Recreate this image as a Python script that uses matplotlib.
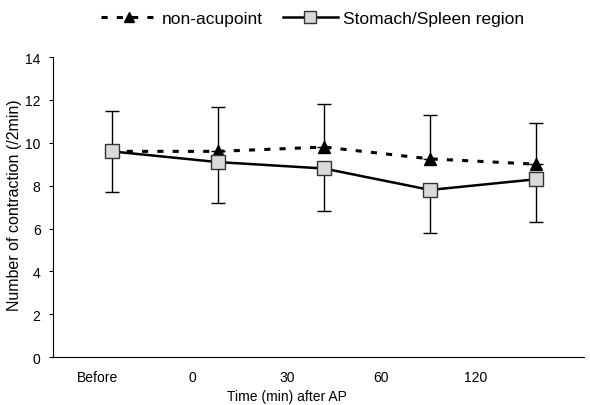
import numpy as np
import matplotlib
matplotlib.use("Agg")
import matplotlib.pyplot as plt

# Daten
labels = ["Before", "0", "30", "60", "120"]
non_acupoint = [9.6, 9.6, 9.8, 9.25, 9.0]
non_acupoint_sd = [1.9, 2.05, 2.0, 2.05, 1.9]
stomach = [9.6, 9.1, 8.8, 7.8, 8.3]
stomach_sd = [1.9, 1.9, 2.0, 2.0, 2.0]

plt.rcParams['font.family'] = ['Liberation Sans', 'DejaVu Sans']

fig = plt.figure(figsize=(5.9, 4.06), dpi=100)
ax = fig.add_axes([0.09, 0.118, 0.9, 0.739])

x = np.arange(len(labels))

# Fehlerbalken: nach oben fuer non-acupoint, nach unten fuer Stomach/Spleen
ax.errorbar(x, non_acupoint, yerr=[np.zeros(5), non_acupoint_sd], fmt='none',
            ecolor='black', elinewidth=1, capsize=5, capthick=1, zorder=1)
ax.errorbar(x, stomach, yerr=[stomach_sd, np.zeros(5)], fmt='none',
            ecolor='black', elinewidth=1, capsize=5, capthick=1, zorder=1)

ax.plot(x, non_acupoint, linestyle=(0, (2, 3)), color='black', linewidth=2.2,
        marker='^', markersize=9, markerfacecolor='black', markeredgecolor='black',
        label='non-acupoint', zorder=3)
ax.plot(x, stomach, linestyle='-', color='black', linewidth=1.8,
        marker='s', markersize=10, markerfacecolor='#d9d9d9', markeredgecolor='#333333',
        label='Stomach/Spleen region', zorder=4)

ax.set_xlim(-0.55, 4.45)
ax.set_ylim(0, 14)
ax.set_yticks(range(0, 15, 2))
# Beschriftungen sitzen im Original etwas enger als die Punkte
ax.set_xticks(x * 0.89 - 0.13)
ax.set_xticklabels(labels)
ax.tick_params(axis='x', length=0, pad=9, labelsize=10)
ax.tick_params(axis='y', length=3, direction='out', labelsize=10, pad=6)
ax.spines['top'].set_visible(False)
ax.spines['right'].set_visible(False)
ax.set_xlabel('Time (min) after AP', fontsize=10)
ax.xaxis.set_label_coords(0.44, -0.105)
ax.set_ylabel('Number of contraction (/2min)', fontsize=11.5)
ax.yaxis.set_label_coords(-0.058, 0.51)

fig.legend(loc='upper center', bbox_to_anchor=(0.53, 1.01), ncol=2, frameon=False,
           fontsize=12.5, handlelength=3.2, handletextpad=0.3, columnspacing=1.15,
           markerscale=0.8)

fig.savefig('out.png', dpi=100)
